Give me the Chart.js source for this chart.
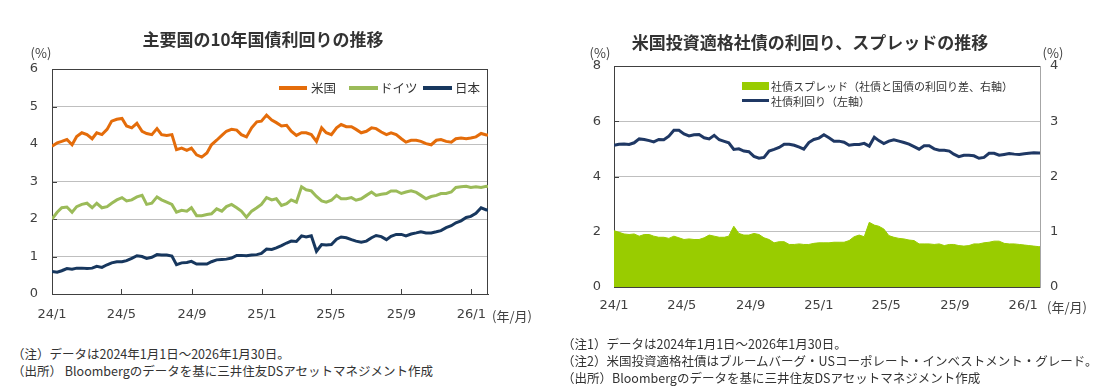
<!DOCTYPE html>
<html>
<head>
<meta charset="utf-8">
<script src="https://cdn.jsdelivr.net/npm/chart.js@4.4.1/dist/chart.umd.min.js"></script>
<style>
body{margin:0;background:#fff;width:1104px;height:392px;position:relative;overflow:hidden;font-family:"Noto Sans CJK JP",sans-serif;color:#333}
canvas{position:absolute;top:0}
.t{position:absolute;white-space:nowrap;line-height:1}
.c{transform:translate(-50%,-50%)}
.m{transform:translateY(-50%)}
.ttl{font-size:17px;font-weight:bold;color:#333}
.ax{font-size:13px;color:#404040}
.note{font-size:12.5px;color:#333}
.leg{font-size:11px;color:#333}
.leg2{font-size:12.5px;color:#333}
.sw{position:absolute}
</style>
</head>
<body>
<canvas id="c1" width="552" height="335" style="left:0"></canvas>
<canvas id="c2" width="544" height="335" style="left:560px"></canvas>

<div class="t c ttl" style="left:263px;top:38px">主要国の10年国債利回りの推移</div>
<div class="t c ttl" style="left:810px;top:41px">米国投資適格社債の利回り、スプレッドの推移</div>

<div class="t c ax" style="left:41px;top:52px">(%)</div>
<div class="t c ax" style="left:600px;top:52px">(%)</div>
<div class="t c ax" style="left:1053px;top:52px">(%)</div>
<div class="t m ax" style="left:492px;top:315px">(年/月)</div>
<div class="t m ax" style="left:1047px;top:306px">(年/月)</div>

<div class="sw" style="left:279px;top:86px;width:28px;height:4px;background:#E46C0A"></div>
<div class="t m leg2" style="left:311px;top:88px">米国</div>
<div class="sw" style="left:349px;top:86px;width:29px;height:4px;background:#9BBB59"></div>
<div class="t m leg2" style="left:380px;top:88px">ドイツ</div>
<div class="sw" style="left:423px;top:86px;width:29px;height:4px;background:#17375E"></div>
<div class="t m leg2" style="left:455px;top:88px">日本</div>

<div class="sw" style="left:742px;top:82px;width:27px;height:8px;background:#99CC00"></div>
<div class="t m leg" style="left:771px;top:86px">社債スプレッド（社債と国債の利回り差、右軸）</div>
<div class="sw" style="left:742px;top:99px;width:27px;height:3px;background:#1F3864"></div>
<div class="t m leg" style="left:771px;top:101px">社債利回り（左軸）</div>

<div class="t m note" style="left:12px;top:354px">（注）データは2024年1月1日～2026年1月30日。</div>
<div class="t m note" style="left:12px;top:371px">（出所） Bloombergのデータを基に三井住友DSアセットマネジメント作成</div>
<div class="t m note" style="left:562px;top:344px">（注1）データは2024年1月1日～2026年1月30日。</div>
<div class="t m note" style="left:562px;top:361px">（注2）米国投資適格社債はブルームバーグ・USコーポレート・インベストメント・グレード。</div>
<div class="t m note" style="left:562px;top:378px">（出所）Bloombergのデータを基に三井住友DSアセットマネジメント作成</div>

<script>
// x axis = days since 2024/1/1
const tickDays = [0, 121, 244, 366, 486, 609, 731];
const tickLabels = ['24/1', '24/5', '24/9', '25/1', '25/5', '25/9', '26/1'];

// left chart: 10y government bond yields (%)
const daysL = [0,9,17,26,35,43,52,61,70,78,87,96,104,113,122,130,139,148,157,165,174,183,191,200,209,217,226,235,243,252,
  261,270,278,287,296,304,313,322,330,339,348,357,365,374,383,391,400,409,417,426,435,443,452,461,470,478,487,496,504,
  513,522,530,539,548,557,565,574,583,591,600,609,617,626,635,643,652,661,670,678,687,696,704,713,722,730,739,748,757,760];
const usYield = [3.94,4.03,4.07,4.12,3.98,4.2,4.3,4.25,4.14,4.3,4.25,4.39,4.61,4.66,4.68,4.48,4.43,4.55,4.34,4.28,4.25,4.41,4.25,4.23,4.25,3.85,3.89,3.83,3.89,3.71,
  3.65,3.76,3.98,4.1,4.23,4.34,4.39,4.37,4.25,4.19,4.43,4.59,4.61,4.77,4.64,4.57,4.48,4.5,4.34,4.23,4.3,4.3,4.25,4.07,4.43,4.3,4.25,4.43,4.52,
  4.46,4.46,4.39,4.3,4.34,4.43,4.41,4.32,4.25,4.3,4.25,4.14,4.05,4.1,4.1,4.07,4.01,3.98,4.1,4.12,4.07,4.05,4.14,4.16,4.14,4.16,4.19,4.28,4.24,4.24];
const deYield = [2.0,2.18,2.3,2.32,2.18,2.33,2.39,2.42,2.3,2.42,2.3,2.33,2.42,2.51,2.57,2.48,2.51,2.59,2.63,2.39,2.42,2.59,2.51,2.45,2.39,2.18,2.23,2.21,2.3,2.09,
  2.09,2.12,2.14,2.27,2.21,2.33,2.39,2.3,2.21,2.05,2.21,2.3,2.39,2.57,2.51,2.54,2.36,2.41,2.51,2.45,2.86,2.78,2.75,2.6,2.48,2.45,2.5,2.63,2.54,
  2.54,2.57,2.5,2.54,2.63,2.72,2.63,2.66,2.68,2.75,2.75,2.68,2.72,2.75,2.71,2.63,2.54,2.6,2.63,2.68,2.68,2.72,2.84,2.86,2.87,2.84,2.86,2.84,2.87,2.86];
const jpYield = [0.6,0.58,0.62,0.68,0.66,0.69,0.69,0.68,0.69,0.74,0.71,0.78,0.83,0.86,0.86,0.89,0.95,1.02,1.0,0.95,0.98,1.05,1.04,1.04,1.01,0.78,0.83,0.84,0.87,0.8,
  0.8,0.8,0.86,0.91,0.92,0.93,0.96,1.03,1.03,1.02,1.04,1.05,1.08,1.2,1.19,1.23,1.29,1.36,1.41,1.4,1.55,1.52,1.55,1.14,1.32,1.31,1.32,1.46,1.52,
  1.5,1.45,1.41,1.38,1.41,1.5,1.56,1.53,1.45,1.54,1.59,1.59,1.55,1.6,1.63,1.66,1.63,1.63,1.66,1.69,1.77,1.82,1.9,1.95,2.04,2.07,2.15,2.3,2.24,2.25];

// right chart: US IG corporate yield (left axis) and spread (right axis)
const daysR = [0,9,18,27,36,45,54,63,71,80,89,98,107,116,125,134,143,152,161,170,179,188,197,205,214,223,232,241,250,259,
  268,277,286,295,304,313,322,331,339,348,357,366,375,384,393,402,411,420,429,438,447,456,465,473,482,491,500,509,518,527,
  536,545,554,563,572,581,590,599,607,616,625,634,643,652,661,670,679,688,697,706,715,724,733,741,750,759,761];
const corpYield = [5.13,5.17,5.18,5.16,5.22,5.36,5.34,5.3,5.25,5.34,5.33,5.46,5.67,5.67,5.54,5.47,5.51,5.52,5.4,5.36,
  5.49,5.33,5.27,5.22,4.98,5.0,4.92,4.9,4.73,4.66,4.69,4.92,4.98,5.05,5.17,5.17,5.13,5.06,4.99,5.23,
  5.34,5.39,5.51,5.4,5.28,5.28,5.24,5.13,5.16,5.16,5.2,5.1,5.42,5.3,5.19,5.28,5.33,5.28,5.23,5.17,
  5.08,4.99,5.11,5.11,5.0,4.95,4.95,4.92,4.81,4.72,4.77,4.77,4.75,4.66,4.69,4.84,4.84,4.77,4.8,4.83,
  4.81,4.8,4.82,4.84,4.86,4.85,4.85];
const corpSpread = [1.02,0.99,0.96,0.95,0.96,0.92,0.95,0.95,0.92,0.9,0.9,0.88,0.92,0.89,0.86,0.87,0.86,0.86,0.89,0.94,
  0.92,0.9,0.9,0.92,1.1,0.97,0.94,0.94,0.97,0.95,0.89,0.86,0.8,0.82,0.82,0.77,0.77,0.78,0.77,0.77,
  0.79,0.8,0.8,0.8,0.81,0.81,0.81,0.84,0.91,0.94,0.91,1.17,1.12,1.1,1.05,0.93,0.9,0.88,0.87,0.85,
  0.84,0.78,0.78,0.78,0.77,0.78,0.75,0.77,0.77,0.75,0.74,0.75,0.78,0.78,0.8,0.81,0.83,0.83,0.79,0.78,
  0.78,0.77,0.76,0.75,0.74,0.73,0.73];

const pts = (xs, ys) => xs.map((x, i) => ({x: x, y: ys[i]}));
const tickFont = {family: 'DejaVu Sans', size: 13};
const dark = '#404040';

// inner tick marks + top/right frame
const frame = {
  id: 'frame',
  beforeDatasetsDraw(chart, args, o) {
    const {ctx, chartArea: a, scales} = chart;
    const x = scales.x, y = scales.y;
    ctx.save();
    ctx.lineWidth = 1;
    ctx.strokeStyle = dark;
    ctx.beginPath();
    x.ticks.forEach(t => {
      const p = Math.round(x.getPixelForValue(t.value)) + 0.5;
      ctx.moveTo(p, a.bottom); ctx.lineTo(p, a.bottom - 5);
    });
    y.ticks.forEach(t => {
      const p = Math.round(y.getPixelForValue(t.value)) + 0.5;
      ctx.moveTo(a.left, p); ctx.lineTo(a.left + 5, p);
    });
    ctx.moveTo(a.left, a.top + 0.5); ctx.lineTo(a.right, a.top + 0.5);
    if (o.right) { ctx.moveTo(a.right - 0.5, a.top); ctx.lineTo(a.right - 0.5, a.bottom); }
    ctx.stroke();
    ctx.restore();
  }
};

function xAxis(max, h, pad) {
  return {
    type: 'linear', min: 0, max: max,
    afterBuildTicks: s => { s.ticks = tickDays.map(v => ({value: v})); },
    afterFit: s => { s.height = h; },
    grid: {display: false, drawTicks: false},
    border: {color: dark, width: 1},
    ticks: {autoSkip: false, maxRotation: 0, padding: pad, color: dark, font: tickFont,
      callback: (v, i) => tickLabels[i]}
  };
}

new Chart(document.getElementById('c1'), {
  type: 'line',
  data: {
    datasets: [
      {label: '米国', data: pts(daysL, usYield), borderColor: '#E46C0A'},
      {label: 'ドイツ', data: pts(daysL, deYield), borderColor: '#9BBB59'},
      {label: '日本', data: pts(daysL, jpYield), borderColor: '#17375E'}
    ]
  },
  options: {
    responsive: false,
    animation: false,
    elements: {point: {radius: 0}, line: {borderWidth: 3, tension: 0}},
    layout: {padding: {top: 69, left: 0, right: 64, bottom: 0}},
    scales: {
      x: xAxis(760, 41, 13),
      y: {
        min: 0, max: 6,
        afterFit: s => { s.width = 52; },
        grid: {color: '#BFBFBF', drawTicks: false},
        border: {color: dark, width: 1},
        ticks: {stepSize: 1, padding: 14, color: dark, font: tickFont}
      }
    },
    plugins: {
      frame: {right: true},
      tooltip: {enabled: false},
      legend: {display: false}
    }
  },
  plugins: [frame]
});

new Chart(document.getElementById('c2'), {
  type: 'line',
  data: {
    datasets: [
      {label: '社債利回り（左軸）', data: pts(daysR, corpYield), yAxisID: 'y',
        borderColor: '#1F3864', borderWidth: 3, order: 0},
      {label: '社債スプレッド（社債と国債の利回り差、右軸）', data: pts(daysR, corpSpread), yAxisID: 'y1',
        fill: 'origin', backgroundColor: '#99CC00', borderColor: '#99CC00', borderWidth: 1, order: 1}
    ]
  },
  options: {
    responsive: false,
    animation: false,
    elements: {point: {radius: 0}, line: {tension: 0}},
    layout: {padding: {top: 66, left: 0, right: 34, bottom: 0}},
    scales: {
      x: xAxis(761, 48, 11),
      y: {
        position: 'left', min: 0, max: 8,
        afterFit: s => { s.width = 54; },
        grid: {color: '#BFBFBF', drawTicks: false},
        border: {color: dark, width: 1},
        ticks: {stepSize: 2, padding: 13, color: dark, font: tickFont}
      },
      y1: {
        position: 'right', min: 0, max: 4,
        afterFit: s => { s.width = 30; },
        grid: {drawOnChartArea: false, drawTicks: false},
        border: {color: '#A6A6A6', width: 1},
        ticks: {stepSize: 1, padding: 10, color: dark, font: tickFont}
      }
    },
    plugins: {
      frame: {right: false},
      tooltip: {enabled: false},
      legend: {display: false}
    }
  },
  plugins: [frame]
});
</script>
</body>
</html>
